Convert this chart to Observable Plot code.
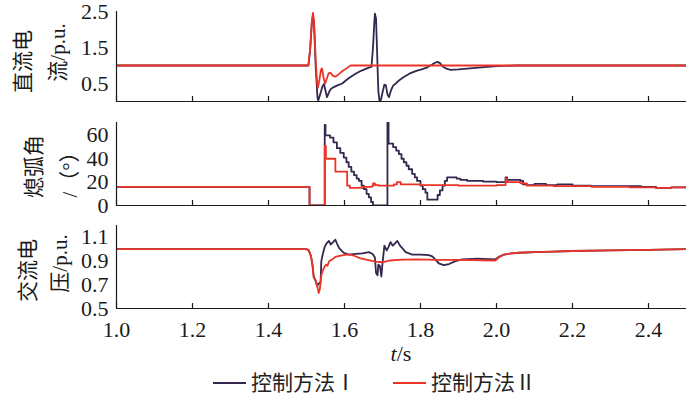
<!DOCTYPE html>
<html><head><meta charset="utf-8">
<script src="https://cdn.jsdelivr.net/npm/d3@7"></script>
<script src="https://cdn.jsdelivr.net/npm/@observablehq/plot@0.6"></script>
<style>
body{margin:0;background:#fff;}
#chart{width:700px;height:397px;position:relative;overflow:hidden;background:#fff;font-family:'Liberation Serif','Noto Sans CJK SC';}
#chart svg{display:block;}
.legend{position:relative;width:700px;height:35px;font-family:'Liberation Serif','Noto Sans CJK SC';font-size:21px;color:#222;}
.legend .ln{position:absolute;top:20px;height:2px;}
.legend .tx{position:absolute;top:21px;transform:translateY(-50%);line-height:1;white-space:nowrap;}
</style>
</head><body>
<div id="chart"></div>
<script>
// ---- data ----
const xDomain = [1.0, 2.5];
const xTicks = [1.0, 1.2, 1.4, 1.6, 1.8, 2.0, 2.2, 2.4];
const seriesNames = ["控制方法Ⅰ", "控制方法Ⅱ"];

// 直流电流 (p.u.)
const dcCurrentI = [[1.0,1.0],[1.505,1.0],[1.510,1.5],[1.514,2.2],[1.517,2.4],[1.520,2.1],[1.524,1.0],[1.529,0.1],[1.531,0.03],[1.536,0.2],[1.542,0.42],[1.546,0.49],[1.550,0.3],[1.554,0.12],[1.559,0.25],[1.564,0.35],[1.572,0.4],[1.58,0.44],[1.594,0.5],[1.61,0.64],[1.629,0.77],[1.645,0.86],[1.664,0.94],[1.671,0.96],[1.675,1.5],[1.678,2.1],[1.680,2.44],[1.683,2.3],[1.686,1.3],[1.689,0.3],[1.692,0.02],[1.696,0.05],[1.700,0.25],[1.705,0.47],[1.709,0.45],[1.713,0.2],[1.717,0.12],[1.722,0.3],[1.728,0.44],[1.735,0.5],[1.745,0.6],[1.756,0.68],[1.772,0.78],[1.791,0.86],[1.805,0.9],[1.818,0.95],[1.83,1.02],[1.837,1.07],[1.845,1.1],[1.852,1.06],[1.858,0.98],[1.866,0.92],[1.879,0.88],[1.90,0.89],[1.93,0.92],[1.96,0.95],[2.0,0.98],[2.05,1.0],[2.5,1.0]];
const dcCurrentII = [[1.0,1.0],[1.505,1.0],[1.510,1.5],[1.514,2.2],[1.517,2.46],[1.520,2.2],[1.524,1.2],[1.528,0.5],[1.530,0.38],[1.534,0.6],[1.538,0.88],[1.541,0.92],[1.545,0.65],[1.549,0.5],[1.553,0.62],[1.558,0.78],[1.563,0.8],[1.569,0.72],[1.576,0.69],[1.585,0.76],[1.594,0.84],[1.605,0.92],[1.616,1.0],[2.5,1.0]];

// 熄弧角 (°)
const arcAngleI = [[1.0,16],[1.508,0],[1.548,69],[1.550,60],[1.562,58],[1.571,54],[1.580,49],[1.589,45],[1.598,41],[1.605,37],[1.611,33],[1.618,29],[1.625,26],[1.632,23],[1.638,21],[1.645,17],[1.651,14],[1.658,10],[1.664,7],[1.670,3],[1.675,0],[1.712,0],[1.713,72],[1.716,53],[1.728,50],[1.736,47],[1.743,44],[1.750,40],[1.756,37],[1.763,34],[1.769,31],[1.778,27],[1.785,24],[1.791,21],[1.800,17],[1.806,14],[1.813,11],[1.818,5],[1.840,5],[1.845,9],[1.851,13],[1.858,17],[1.864,21],[1.870,24],[1.895,23],[1.905,22],[1.923,21],[1.965,20.5],[2.00,20],[2.024,24],[2.028,22],[2.063,21],[2.07,18],[2.08,17.5],[2.10,18.5],[2.13,17.5],[2.16,18],[2.20,17],[2.25,16.5],[2.30,16.5],[2.38,16],[2.42,15],[2.46,15.5],[2.5,15.5]];
const arcAngleII = [[1.0,16],[1.508,0],[1.548,51],[1.551,40],[1.576,29],[1.607,17],[1.614,15],[1.647,16],[1.672,16.5],[1.675,19],[1.680,17.5],[1.69,17],[1.73,18],[1.738,20],[1.748,18],[1.80,17.5],[1.90,17],[2.0,17.5],[2.024,23],[2.028,20],[2.063,19],[2.08,17],[2.15,16.5],[2.25,16],[2.35,15.5],[2.42,15],[2.46,15.5],[2.5,15.5]];

// 交流电压 (p.u.)
const acVoltageI = [[1.0,1.0],[1.50,1.0],[1.506,0.99],[1.512,0.94],[1.516,0.86],[1.519,0.77],[1.523,0.74],[1.528,0.69],[1.532,0.71],[1.537,0.72],[1.539,0.9],[1.543,0.96],[1.548,1.02],[1.553,1.05],[1.559,1.07],[1.564,1.04],[1.570,1.06],[1.576,1.08],[1.580,1.05],[1.586,1.01],[1.598,0.97],[1.611,0.955],[1.63,0.96],[1.647,0.965],[1.664,0.975],[1.674,0.96],[1.680,0.93],[1.683,0.8],[1.687,0.78],[1.689,0.87],[1.693,0.86],[1.697,0.77],[1.700,0.88],[1.705,1.03],[1.711,0.99],[1.716,1.02],[1.721,1.06],[1.727,1.03],[1.733,1.05],[1.739,1.07],[1.746,1.03],[1.752,1.01],[1.761,0.975],[1.778,0.955],[1.80,0.955],[1.822,0.95],[1.831,0.94],[1.840,0.91],[1.848,0.88],[1.861,0.865],[1.875,0.875],[1.892,0.9],[1.910,0.915],[1.95,0.92],[1.997,0.915],[2.006,0.935],[2.02,0.955],[2.04,0.965],[2.06,0.97],[2.1,0.975],[2.15,0.98],[2.2,0.985],[2.3,0.99],[2.4,0.995],[2.5,1.0]];
const acVoltageII = [[1.0,1.0],[1.50,1.0],[1.506,0.99],[1.512,0.94],[1.516,0.86],[1.519,0.76],[1.524,0.74],[1.529,0.68],[1.532,0.63],[1.535,0.66],[1.539,0.78],[1.543,0.82],[1.547,0.85],[1.551,0.87],[1.555,0.86],[1.560,0.9],[1.566,0.91],[1.576,0.935],[1.59,0.945],[1.605,0.955],[1.615,0.955],[1.625,0.945],[1.64,0.925],[1.66,0.91],[1.682,0.895],[1.70,0.89],[1.72,0.905],[1.74,0.91],[1.787,0.915],[1.84,0.91],[1.90,0.91],[1.997,0.905],[2.006,0.93],[2.02,0.955],[2.04,0.965],[2.06,0.97],[2.1,0.975],[2.15,0.98],[2.2,0.985],[2.3,0.99],[2.4,0.995],[2.5,1.0]];

const dcDomain = [0, 2.5], dcTicks = [0.5, 1.5, 2.5];
const arcDomain = [0, 71], arcTicks = [0, 20, 40, 60];
const acDomain = [0.5, 1.2], acTicks = [0.5, 0.7, 0.9, 1.1];

// ---- drawing ----
const colorI = "#35264f", colorII = "#ec3327", axisColor = "#1a1a1a";
const fontFamily = "'Liberation Serif', 'Noto Sans CJK SC'";

function panel(o) {
  const marks = [];
  o.series.forEach(s => marks.push(Plot.line(s.data, {x: d => d[0], y: d => d[1], stroke: s.color, strokeWidth: 1.8, curve: o.curve, clip: true})));
  marks.push(Plot.ruleX([xDomain[0]], {stroke: axisColor, strokeWidth: 1.2}));
  marks.push(Plot.ruleY([o.yDomain[0]], {stroke: axisColor, strokeWidth: 1.2}));
  marks.push(Plot.axisY(o.yTicks, {tickSize: 0, tickPadding: 8, tickFormat: o.yFormat, label: null, fontSize: 22, fontFamily, fontVariant: "normal", fill: axisColor}));
  marks.push(Plot.axisX(xTicks, {tickSize: 5, dy: -5, fill: "none", stroke: axisColor, strokeWidth: 1.2, label: null}));
  if (o.bottom) marks.push(Plot.axisX(xTicks, {tickSize: 0, tickPadding: 13, tickFormat: d3.format(".1f"), label: null, fontSize: 22, fontFamily, fontVariant: "normal", fill: axisColor}));
  o.labels.forEach(l => marks.push(Plot.text([l.text], {frameAnchor: "left", dx: l.dx, dy: l.dy, rotate: -90, textAnchor: "middle", lineAnchor: "middle", fontSize: 21, fontFamily, fill: axisColor})));
  return Plot.plot({
    width: 700, height: o.height,
    marginLeft: 116, marginRight: 14, marginTop: o.marginTop, marginBottom: o.marginBottom,
    x: {domain: xDomain}, y: {domain: o.yDomain},
    style: {fontFamily, fontSize: "22px", background: "transparent", overflow: "visible", color: axisColor},
    marks
  });
}

const chart = document.getElementById("chart");
chart.append(panel({
  series: [{data: dcCurrentI, color: colorI}, {data: dcCurrentII, color: colorII}],
  yDomain: dcDomain, yTicks: dcTicks, yFormat: d3.format(".1f"), curve: "linear",
  height: 106, marginTop: 11, marginBottom: 5,
  labels: [{text: "直流电", dx: -93, dy: 5}, {text: "流/p.u.", dx: -58, dy: -4}]
}));
chart.append(panel({
  series: [{data: arcAngleI, color: colorI}, {data: arcAngleII, color: colorII}],
  yDomain: arcDomain, yTicks: arcTicks, yFormat: d3.format("d"), curve: "step-after",
  height: 106, marginTop: 16, marginBottom: 7,
  labels: [{text: "熄弧角", dx: -82, dy: 2.5}, {text: "/（°）", dx: -46, dy: 5.5}]
}));
const p3 = panel({
  series: [{data: acVoltageI, color: colorI}, {data: acVoltageII, color: colorII}],
  yDomain: acDomain, yTicks: acTicks, yFormat: d3.format(".1f"), curve: "linear",
  height: 150, marginTop: 13, marginBottom: 54, bottom: true,
  labels: [{text: "交流电", dx: -88, dy: 3.5}, {text: "压/p.u.", dx: -56, dy: -3.5}]
});
chart.append(p3);
const xl = d3.select(p3).append("text")
  .attr("x", 401).attr("y", 141).attr("text-anchor", "middle").attr("dy", "0.35em")
  .attr("fill", axisColor).attr("font-family", fontFamily).attr("font-size", 22);
xl.append("tspan").attr("font-style", "italic").text("t");
xl.append("tspan").text("/s");

// legend
const lg = d3.select(chart).append("div").attr("class", "legend");
const items = [{name: seriesNames[0], color: colorI, x: 213}, {name: seriesNames[1], color: colorII, x: 393}];
items.forEach(it => {
  lg.append("div").attr("class", "ln").style("left", it.x + "px").style("width", "33px").style("background", it.color);
  lg.append("span").attr("class", "tx").style("left", (it.x + 38) + "px").text(it.name);
});
</script>
</body></html>
